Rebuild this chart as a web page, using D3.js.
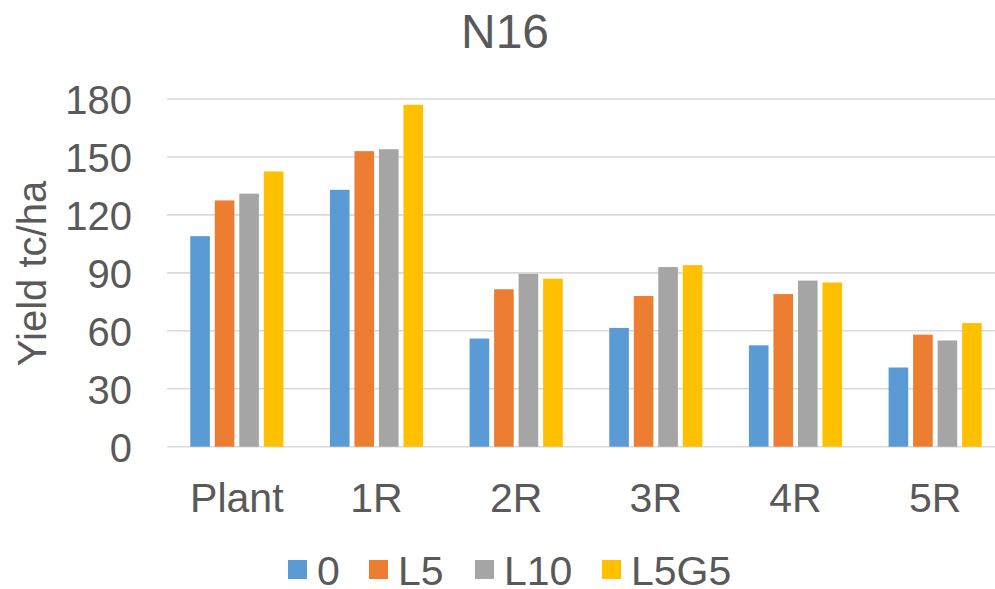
<!DOCTYPE html>
<html>
<head>
<meta charset="utf-8">
<script src="https://cdn.jsdelivr.net/npm/d3@7"></script>
<style>
  html, body { margin: 0; padding: 0; background: #fff; }
  svg { display: block; }
  text { font-family: "Liberation Sans", Arial, sans-serif; fill: #595959; }
</style>
</head>
<body>
<svg id="chart" width="995" height="589"></svg>
<script>
// Yield by crop class for each treatment
const categories = ["Plant", "1R", "2R", "3R", "4R", "5R"];
const seriesNames = ["0", "L5", "L10", "L5G5"];
const seriesColors = ["#5b9bd5", "#ed7d31", "#a5a5a5", "#ffc000"];
const values0    = [109, 133, 56, 61.5, 52.5, 41];
const valuesL5   = [127.5, 153, 81.5, 78, 79, 58];
const valuesL10  = [131, 154, 89.5, 93, 86, 55];
const valuesL5G5 = [142.5, 177, 87, 94, 85, 64];
const yTicks = [0, 30, 60, 90, 120, 150, 180];

const seriesValues = [values0, valuesL5, valuesL10, valuesL5G5];
const rows = categories.map((c, i) => ({
  cat: c,
  vals: seriesNames.map((s, j) => ({ key: s, value: seriesValues[j][i], color: seriesColors[j] }))
}));

const svg = d3.select("#chart");

const plotLeft = 167, plotRight = 1005, plotTop = 99, plotBottom = 446.7;

const x0 = d3.scaleBand().domain(categories).range([plotLeft, plotRight])
  .paddingInner(0.298).paddingOuter(0.149);
const x1 = d3.scaleBand().domain(seriesNames).range([0, x0.bandwidth()])
  .paddingInner(0.2).paddingOuter(0.1);
const y = d3.scaleLinear().domain([0, 180]).range([plotBottom, plotTop]);

// Horizontal gridlines
svg.append("g")
  .selectAll("line")
  .data(yTicks)
  .join("line")
  .attr("x1", plotLeft)
  .attr("x2", 995)
  .attr("y1", d => y(d))
  .attr("y2", d => y(d))
  .attr("stroke", "#d9d9d9")
  .attr("stroke-width", 1.6);

// Y tick labels
svg.append("g")
  .selectAll("text")
  .data(yTicks)
  .join("text")
  .attr("x", 132)
  .attr("y", d => y(d) + 15)
  .attr("text-anchor", "end")
  .style("font-size", "40px")
  .text(d => d);

// Bars
const groups = svg.append("g")
  .selectAll("g")
  .data(rows)
  .join("g")
  .attr("transform", d => `translate(${x0(d.cat)},0)`);

groups.selectAll("rect")
  .data(d => d.vals)
  .join("rect")
  .attr("x", d => x1(d.key))
  .attr("width", x1.bandwidth())
  .attr("y", d => y(d.value))
  .attr("height", d => y(0) - y(d.value))
  .attr("fill", d => d.color);

// Category labels
svg.append("g")
  .selectAll("text")
  .data(categories)
  .join("text")
  .attr("x", d => x0(d) + x0.bandwidth() / 2)
  .attr("y", 512)
  .attr("text-anchor", "middle")
  .style("font-size", "41px")
  .text(d => d);

// Title
svg.append("text")
  .attr("x", 505)
  .attr("y", 48)
  .attr("text-anchor", "middle")
  .style("font-size", "48px")
  .text("N16");

// Y axis title
svg.append("text")
  .attr("transform", "translate(46,273.5) rotate(-90)")
  .attr("text-anchor", "middle")
  .style("font-size", "40px")
  .text("Yield tc/ha");

// Legend
const legendX = [288, 369, 475, 602];
const legend = svg.append("g")
  .selectAll("g")
  .data(seriesNames)
  .join("g")
  .attr("transform", (d, i) => `translate(${legendX[i]},0)`);

legend.append("rect")
  .attr("x", 0)
  .attr("y", 560)
  .attr("width", 19)
  .attr("height", 19)
  .attr("fill", (d, i) => seriesColors[i]);

legend.append("text")
  .attr("x", 29)
  .attr("y", 585)
  .style("font-size", "41px")
  .text(d => d);
</script>
</body>
</html>
